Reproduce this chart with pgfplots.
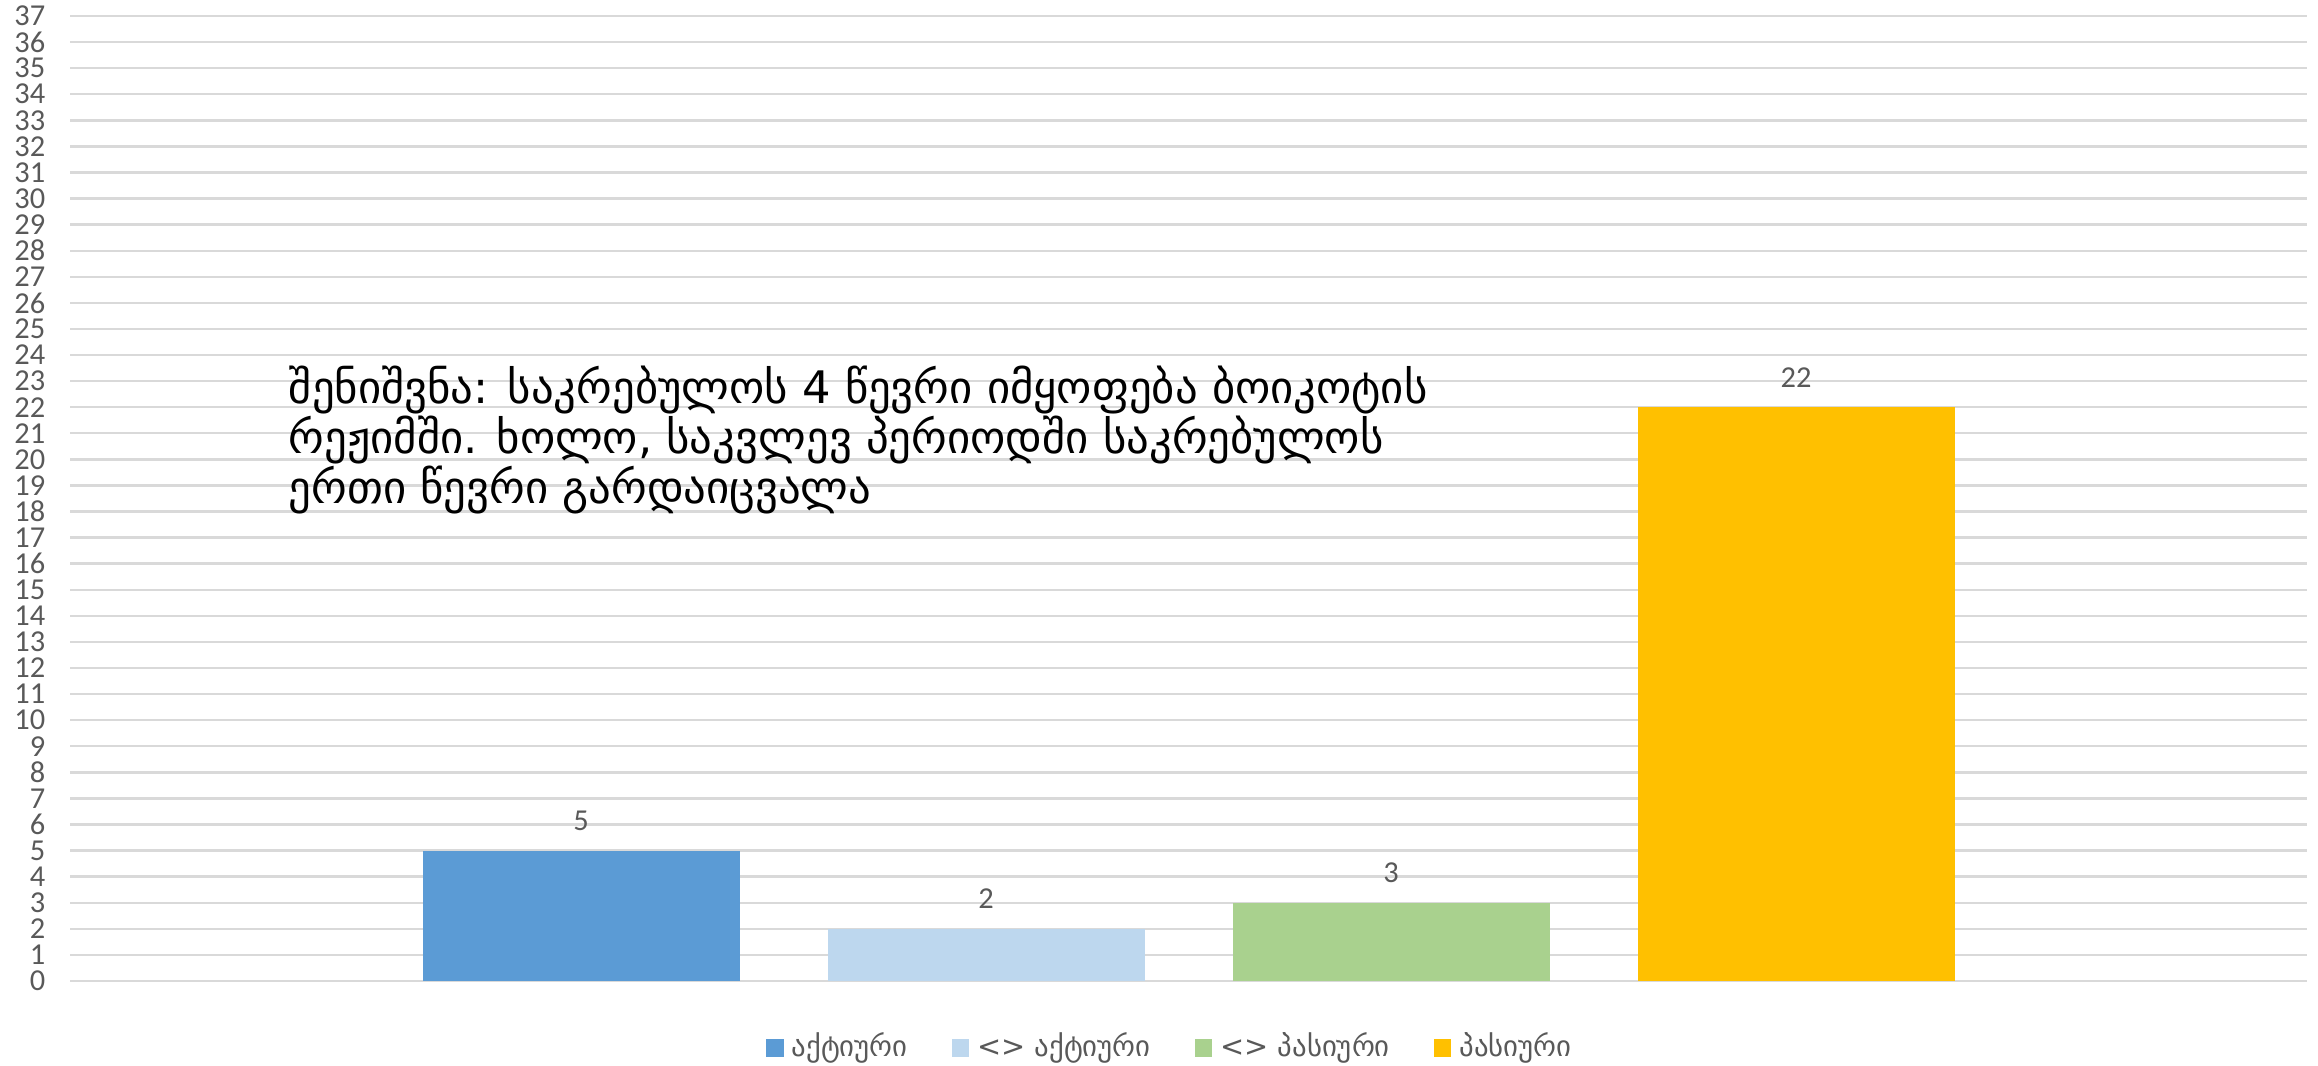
\documentclass[border=0pt]{standalone}
\usepackage{fontspec}
\setmainfont{Carlito}
\newfontfamily\geo{DejaVu Sans}
\usepackage{pgfplots}
\pgfplotsset{compat=1.18}
\definecolor{c1}{HTML}{5B9BD5}
\definecolor{c2}{HTML}{BDD7EE}
\definecolor{c3}{HTML}{A9D18E}
\definecolor{c4}{HTML}{FFC000}
\definecolor{gridgray}{HTML}{D9D9D9}
\definecolor{txtgray}{HTML}{595959}
\begin{document}
\begin{tikzpicture}[x=1pt,y=1pt]
\useasboundingbox (0,0) rectangle (579.5,266.5);
\begin{axis}[
  at={(17.5pt,21.25pt)}, anchor=south west,
  scale only axis, width=559.25pt, height=241.25pt,
  xmin=-1, xmax=1, ymin=0, ymax=37,
  ytick={0,...,37}, xtick=\empty,
  axis line style={draw=none},
  tick style={draw=none}, major tick length=0pt,
  ymajorgrids, grid style={color=gridgray, line width=0.6pt},
  /pgf/number format/assume math mode=true,
  yticklabel style={font=\fontsize{7.6}{7.6}\selectfont, color=txtgray, anchor=east, inner sep=0pt, xshift=-6pt},
  ybar=22pt, bar width=79.25pt,
  nodes near coords,
  every node near coord/.append style={font=\fontsize{7.6}{8}\selectfont, color=txtgray, anchor=south, inner sep=0pt, yshift=4.8pt},
  legend columns=4,
  legend style={draw=none, at={(0.493,-0.0694)}, anchor=center, font=\geo\fontsize{7.2}{8}\selectfont, text=txtgray,
    /tikz/every even column/.append style={column sep=9pt}},
  legend image code/.code={\fill[#1] (0pt,-2.2pt) rectangle (4.4pt,2.2pt);},
]
\addplot[fill=c1, draw=none] coordinates {(0,5)};
\addplot[fill=c2, draw=none] coordinates {(0,2)};
\addplot[fill=c3, draw=none] coordinates {(0,3)};
\addplot[fill=c4, draw=none] coordinates {(0,22)};
\legend{აქტიური, <> აქტიური, <> პასიური, პასიური}
\end{axis}
\node[anchor=base west, align=left, inner sep=0pt, font=\geo\fontsize{11.2}{12.6}\selectfont] at (72,140.5)
 {შენიშვნა: საკრებულოს 4 წევრი იმყოფება ბოიკოტის\\რეჟიმში. ხოლო, საკვლევ პერიოდში საკრებულოს\\ერთი წევრი გარდაიცვალა};
\end{tikzpicture}
\end{document}
